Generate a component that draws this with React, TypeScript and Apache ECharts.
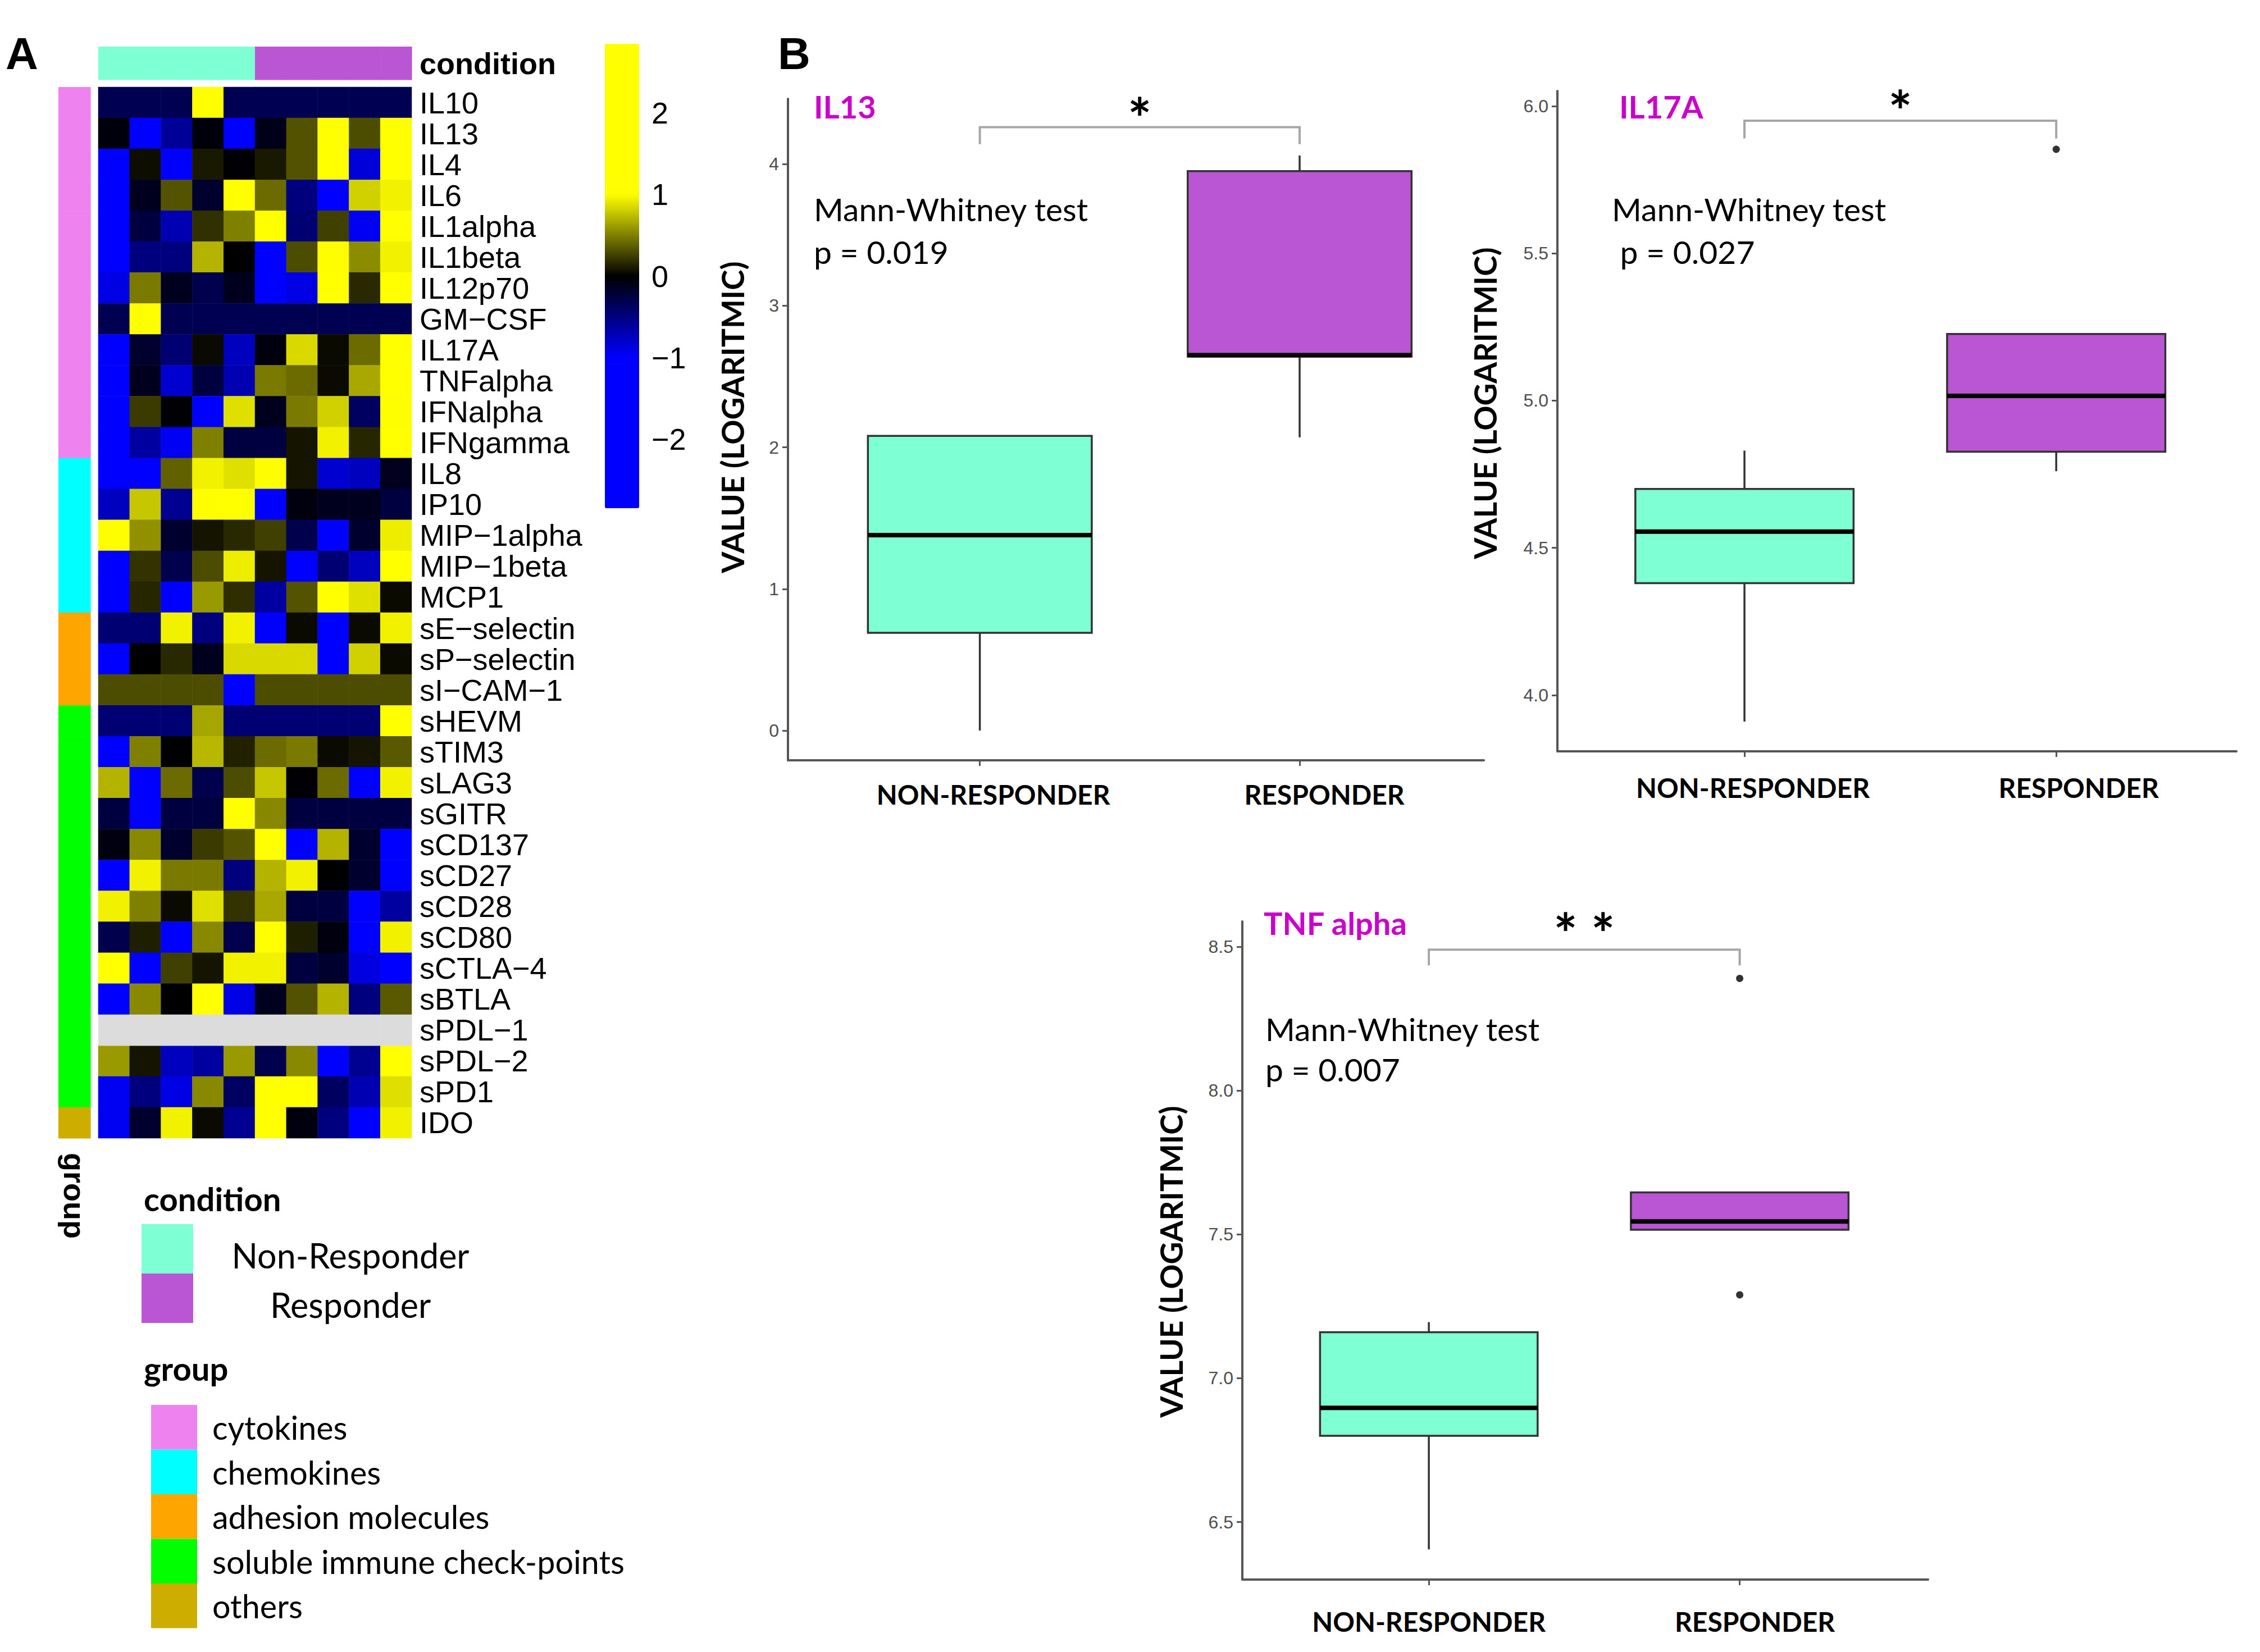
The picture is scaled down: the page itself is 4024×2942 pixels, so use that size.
import React, { useEffect, useRef } from "react";
import * as echarts from "echarts";

// ---------------- DATA ----------------
const sampleIds = ["NR1", "NR2", "NR3", "NR4", "NR5", "R1", "R2", "R3", "R4", "R5"];
const conditionNames = ["Non-Responder", "Responder"];
const conditionColors = ["#7FFFD4", "#BA55D3"];
const sampleCondition = [0, 0, 0, 0, 0, 1, 1, 1, 1, 1];

const markerNames = [
  "IL10", "IL13", "IL4", "IL6", "IL1alpha", "IL1beta", "IL12p70", "GM−CSF", "IL17A", "TNFalpha",
  "IFNalpha", "IFNgamma", "IL8", "IP10", "MIP−1alpha", "MIP−1beta", "MCP1", "sE−selectin",
  "sP−selectin", "sI−CAM−1", "sHEVM", "sTIM3", "sLAG3", "sGITR", "sCD137", "sCD27", "sCD28",
  "sCD80", "sCTLA−4", "sBTLA", "sPDL−1", "sPDL−2", "sPD1", "IDO",
];
const groupNames = ["cytokines", "chemokines", "adhesion molecules", "soluble immune check-points", "others"];
const groupColors = ["#EE82EE", "#00FFFF", "#FFA500", "#00FF00", "#CDAD00"];
const markerGroup = [
  0, 0, 0, 0, 0, 0, 0, 0, 0, 0, 0, 0,
  1, 1, 1, 1, 1,
  2, 2, 2,
  3, 3, 3, 3, 3, 3, 3, 3, 3, 3, 3, 3, 3,
  4,
];

// row-scaled values (z-scores), one row per marker, one column per sample; null = NA
const zScores: (number | null)[][] = [
  [-0.32, -0.32, -0.32, 2.85, -0.32, -0.32, -0.32, -0.32, -0.32, -0.32],
  [-0.05, -1.5, -0.6, -0.05, -1.4, -0.1, 0.32, 1.5, 0.3, 1.6],
  [-1.5, 0.05, -1.4, 0.1, -0.02, 0.1, 0.32, 1.5, -0.85, 1.5],
  [-1.5, -0.12, 0.33, -0.18, 1.3, 0.42, -0.5, -1.2, 0.82, 0.95],
  [-1.5, -0.25, -0.7, 0.19, 0.5, 1.2, -0.45, 0.25, -0.95, 1.5],
  [-1.5, -0.5, -0.5, 0.7, 0.0, -1.2, 0.3, 1.0, 0.55, 0.95],
  [-0.9, 0.48, -0.12, -0.3, -0.12, -1.3, -0.9, 1.2, 0.16, 1.3],
  [-0.32, 2.85, -0.32, -0.32, -0.32, -0.32, -0.32, -0.32, -0.32, -0.32],
  [-1.5, -0.18, -0.45, 0.04, -0.75, -0.06, 0.85, 0.04, 0.42, 1.5],
  [-1.5, -0.12, -0.82, -0.25, -0.7, 0.48, 0.42, 0.04, 0.66, 1.5],
  [-1.5, 0.23, -0.02, -1.3, 0.88, -0.12, 0.48, 0.82, -0.38, 1.0],
  [-1.5, -0.63, -0.95, 0.5, -0.25, -0.25, 0.08, 0.95, 0.15, 1.5],
  [-1.3, -1.3, 0.38, 0.95, 0.88, 1.0, 0.08, -0.82, -0.75, -0.12],
  [-0.75, 0.78, -0.57, 1.0, 1.2, -1.3, -0.06, -0.12, -0.12, -0.25],
  [1.0, 0.57, -0.18, 0.08, 0.16, 0.25, -0.3, -1.3, -0.18, 0.93],
  [-1.5, 0.2, -0.3, 0.3, 0.93, 0.08, -1.2, -0.45, -0.75, 1.3],
  [-1.5, 0.15, -1.2, 0.6, 0.18, -0.63, 0.33, 1.2, 0.88, 0.04],
  [-0.45, -0.45, 0.95, -0.5, 0.95, -1.3, 0.04, -1.3, 0.04, 0.95],
  [-1.3, 0.0, 0.16, -0.12, 0.85, 0.85, 0.85, -1.3, 0.82, 0.04],
  [0.3, 0.3, 0.3, 0.3, -2.85, 0.3, 0.3, 0.3, 0.3, 0.3],
  [-0.45, -0.45, -0.45, 0.65, -0.45, -0.45, -0.45, -0.45, -0.45, 2.4],
  [-1.3, 0.5, 0.0, 0.72, 0.13, 0.42, 0.48, 0.04, 0.08, 0.35],
  [0.7, -1.3, 0.42, -0.3, 0.3, 0.78, -0.02, 0.42, -1.3, 0.95],
  [-0.25, -1.3, -0.25, -0.25, 1.3, 0.53, -0.25, -0.25, -0.25, -0.25],
  [-0.06, 0.54, -0.18, 0.23, 0.33, 1.2, -1.2, 0.7, -0.18, -1.2],
  [-1.2, 0.95, 0.48, 0.48, -0.5, 0.7, 0.95, 0.0, -0.18, -1.2],
  [0.95, 0.5, 0.04, 0.88, 0.2, 0.66, -0.25, -0.25, -1.2, -0.63],
  [-0.3, 0.12, -1.2, 0.54, -0.3, 1.2, 0.12, -0.06, -1.2, 0.95],
  [1.2, -1.2, 0.25, 0.08, 0.95, 0.95, -0.25, -0.18, -0.88, -1.2],
  [-1.3, 0.54, 0.0, 1.3, -0.9, -0.12, 0.32, 0.7, -0.5, 0.35],
  [null, null, null, null, null, null, null, null, null, null],
  [0.6, 0.08, -0.75, -0.63, 0.6, -0.3, 0.54, -1.2, -0.57, 1.2],
  [-0.95, -0.5, -0.9, 0.54, -0.38, 1.2, 1.2, -0.38, -0.7, 0.88],
  [-0.95, -0.18, 0.95, 0.04, -0.57, 1.2, -0.06, -0.5, -1.2, 0.95],
];
const zLimit = 2.85;
const colorBarTicks = [-2, -1, 0, 1, 2];

// box plots: [lower whisker, Q1, median, Q3, upper whisker] per category
const boxCategories = ["NON-RESPONDER", "RESPONDER"];
const il13Stats = [
  [0.0, 0.69, 1.38, 2.08, 2.08],
  [2.07, 2.64, 2.65, 3.95, 4.06],
];
const il13Outliers: number[][] = [];
const il13Ticks = [0, 1, 2, 3, 4];
const il13Sig = { label: "*", tipY: 4.14, barY: 4.26, textY: 4.41 };

const il17aStats = [
  [3.91, 4.38, 4.555, 4.7, 4.83],
  [4.76, 4.826, 5.016, 5.226, 5.226],
];
const il17aOutliers = [[2, 5.853]];
const il17aTicks = [4.0, 4.5, 5.0, 5.5, 6.0];
const il17aSig = { label: "*", tipY: 5.89, barY: 5.95, textY: 6.025 };

const tnfStats = [
  [6.405, 6.8, 6.897, 7.16, 7.195],
  [7.516, 7.516, 7.545, 7.646, 7.646],
];
const tnfOutliers = [[2, 8.39], [2, 7.29]];
const tnfTicks = [6.5, 7.0, 7.5, 8.0, 8.5];
const tnfSig = { label: "* *", tipY: 8.435, barY: 8.49, textY: 8.588 };

// ---------------- STYLE / LAYOUT ----------------
const W = 4024;
const H = 2942;
const ARIAL = "Liberation Sans";
const CAL = "Lato";
const BOX_WIDTH = 0.7;
const AXIS_GREY = "#555555";
const STAR_SIZE = 100;

function buildPalette(): string[] {
  // blue -> black -> yellow, saturating at |z| >= 1
  const out: string[] = [];
  const n = 40;
  for (let k = 0; k <= n; k++) {
    const v = -zLimit + (2 * zLimit * k) / n;
    const t = Math.max(-1, Math.min(1, v));
    let r = 0, g = 0, b = 0;
    if (t < 0) b = Math.round(-t * 255);
    else { r = Math.round(t * 255); g = r; }
    out.push(`rgb(${r},${g},${b})`);
  }
  return out;
}

const cellRender = (params: any, api: any) => {
  const c = api.coord([api.value(0), api.value(1)]);
  const s = api.size([1, 1]);
  return {
    type: "rect",
    shape: { x: c[0] - s[0] / 2, y: c[1] - s[1] / 2, width: s[0] + 0.6, height: s[1] + 0.6 },
    style: { fill: api.visual("color") },
  };
};

const boxRender = (params: any, api: any) => {
  const x = api.value(0);
  const lo = api.coord([x, api.value(1)]);
  const q1 = api.coord([x, api.value(2)]);
  const md = api.coord([x, api.value(3)]);
  const q3 = api.coord([x, api.value(4)]);
  const hi = api.coord([x, api.value(5)]);
  const hw = api.size([BOX_WIDTH, 0])[0] / 2;
  const fill = conditionColors[api.value(6)];
  const ws = { stroke: "#333333", lineWidth: 3.5 };
  return {
    type: "group",
    children: [
      { type: "line", shape: { x1: lo[0], y1: lo[1], x2: q1[0], y2: q1[1] }, style: ws },
      { type: "line", shape: { x1: q3[0], y1: q3[1], x2: hi[0], y2: hi[1] }, style: ws },
      {
        type: "rect",
        shape: { x: q3[0] - hw, y: q3[1], width: 2 * hw, height: q1[1] - q3[1] },
        style: { fill, stroke: "#333333", lineWidth: 3.5 },
      },
      { type: "line", shape: { x1: md[0] - hw, y1: md[1], x2: md[0] + hw, y2: md[1] }, style: { stroke: "#000", lineWidth: 8 } },
    ],
  };
};

const makeBracketRender = (label: string) => (params: any, api: any) => {
  const x1 = api.value(0), x2 = api.value(1);
  const tip = api.value(2), bar = api.value(3), ty = api.value(4);
  const a = api.coord([x1, tip]);
  const b = api.coord([x1, bar]);
  const c = api.coord([x2, bar]);
  const d = api.coord([x2, tip]);
  const t = api.coord([(x1 + x2) / 2, ty]);
  return {
    type: "group",
    children: [
      { type: "polyline", shape: { points: [a, b, c, d] }, style: { stroke: "#A6A6A6", lineWidth: 4, fill: null } },
      {
        type: "text",
        x: t[0],
        y: t[1] + STAR_SIZE * 0.2,
        style: {
          text: label, fill: "#000", fontSize: STAR_SIZE, fontWeight: "bold", fontFamily: CAL,
          align: "center", verticalAlign: "middle", textAlign: "center", textVerticalAlign: "middle",
        },
      },
    ],
  };
};

function textEl(text: string, x: number, y: number, fontSize: number, opts: any = {}) {
  return {
    type: "text",
    x,
    y,
    style: {
      text,
      fill: opts.color || "#000",
      fontSize,
      fontFamily: opts.family || CAL,
      fontWeight: opts.weight || "normal",
      lineHeight: opts.lineHeight,
      align: opts.align || "left",
      textAlign: opts.align || "left",
      verticalAlign: opts.va || "middle",
      textVerticalAlign: opts.va || "middle",
    },
  };
}

function buildOption() {
  const grids = [
    { left: 175, top: 155, width: 558, height: 1872 }, // 0 heatmap
    { left: 175, top: 83, width: 558, height: 59 }, // 1 condition bar
    { left: 104, top: 155, width: 57, height: 1872 }, // 2 group bar
    { left: 1077, top: 78, width: 61, height: 827 }, // 3 colour bar axis
    { left: 1403, top: 176, width: 1239, height: 1178 }, // 4 IL13
    { left: 2773, top: 162, width: 1209, height: 1176 }, // 5 IL17A
    { left: 2212, top: 1641, width: 1221, height: 1172 }, // 6 TNF alpha
  ].map((g) => ({ ...g, containLabel: false, outerBoundsMode: "none", show: false }));

  const hidden = { show: false };
  const xAxes: any[] = [
    { type: "category", gridIndex: 0, data: sampleIds, ...hidden },
    { type: "category", gridIndex: 1, data: sampleIds, ...hidden },
    {
      type: "category", gridIndex: 2, data: ["group"], position: "bottom",
      axisLine: { show: false }, axisTick: { show: false },
      axisLabel: { rotate: -90, margin: 26, fontSize: 54, fontWeight: "bold", fontFamily: ARIAL, color: "#000", interval: 0 },
    },
    { type: "value", gridIndex: 3, min: 0, max: 1, ...hidden },
  ];
  const yAxes: any[] = [
    {
      type: "category", gridIndex: 0, data: markerNames, inverse: true, position: "right",
      axisLine: { show: false }, axisTick: { show: false }, splitLine: { show: false },
      axisLabel: { interval: 0, margin: 14, fontSize: 54, fontFamily: ARIAL, color: "#000" },
    },
    {
      type: "category", gridIndex: 1, data: ["condition"], position: "right",
      axisLine: { show: false }, axisTick: { show: false },
      axisLabel: { margin: 14, fontSize: 54, fontWeight: "bold", fontFamily: ARIAL, color: "#000" },
    },
    { type: "category", gridIndex: 2, data: markerNames, inverse: true, ...hidden },
    {
      type: "value", gridIndex: 3, min: -zLimit, max: zLimit, position: "right",
      axisLine: { show: false }, axisTick: { show: false }, splitLine: { show: false },
      axisLabel: {
        customValues: colorBarTicks, margin: 22, fontSize: 54, fontFamily: ARIAL, color: "#000",
        formatter: (v: number) => (v < 0 ? "−" + Math.abs(v) : String(v)),
      },
    },
  ];

  const boxPanels = [
    { gi: 4, stats: il13Stats, outliers: il13Outliers, ticks: il13Ticks, sig: il13Sig, ymin: -0.21, ymax: 4.46, xmax: 2.576, dec: 0, nameGap: 72, namePad: [0, 0, 0, 44], labelMargin: 36, labelShift: [48, 88] },
    { gi: 5, stats: il17aStats, outliers: il17aOutliers, ticks: il17aTicks, sig: il17aSig, ymin: 3.809, ymax: 6.051, xmax: 2.578, dec: 1, nameGap: 102, namePad: [0, 0, 0, 64], labelMargin: 40, labelShift: [30, 80] },
    { gi: 6, stats: tnfStats, outliers: tnfOutliers, ticks: tnfTicks, sig: tnfSig, ymin: 6.30, ymax: 8.588, xmax: 2.606, dec: 1, nameGap: 100, namePad: [0, 40, 0, 0], labelMargin: 50, labelShift: [0, 54] },
  ];

  const series: any[] = [];
  // 0: heatmap (must stay first, visualMap targets it)
  const heatData: number[][] = [];
  const naData: number[][] = [];
  zScores.forEach((row, r) =>
    row.forEach((v, c) => {
      if (v === null) naData.push([c, r]);
      else heatData.push([c, r, v]);
    })
  );
  series.push({
    type: "heatmap", name: "z-score", xAxisIndex: 0, yAxisIndex: 0, data: heatData,
    itemStyle: { borderWidth: 0 }, emphasis: { disabled: true }, silent: true,
  });
  series.push({
    type: "custom", name: "NA", xAxisIndex: 0, yAxisIndex: 0, data: naData,
    itemStyle: { color: "#DCDCDC" }, renderItem: cellRender, silent: true,
  });
  conditionNames.forEach((name, ci) => {
    series.push({
      type: "custom", name, xAxisIndex: 1, yAxisIndex: 1,
      data: sampleIds.map((_, i) => i).filter((i) => sampleCondition[i] === ci).map((i) => [i, 0]),
      itemStyle: { color: conditionColors[ci] }, renderItem: cellRender, silent: true,
    });
  });
  groupNames.forEach((name, gi) => {
    series.push({
      type: "custom", name, xAxisIndex: 2, yAxisIndex: 2,
      data: markerNames.map((_, i) => i).filter((i) => markerGroup[i] === gi).map((i) => [0, i]),
      itemStyle: { color: groupColors[gi] }, renderItem: cellRender, silent: true,
    });
  });

  boxPanels.forEach((p, k) => {
    const xi = xAxes.length;
    const yi = yAxes.length;
    const labelFont = { fontSize: 48, fontWeight: "bold", fontFamily: CAL, color: "#000" };
    xAxes.push({
      type: "value", gridIndex: p.gi, min: 0.4, max: p.xmax,
      axisLine: { show: true, onZero: false, lineStyle: { color: AXIS_GREY, width: 4 } },
      axisTick: { show: true, customValues: [1, 2], length: 10, lineStyle: { color: AXIS_GREY, width: 3 } },
      splitLine: { show: false },
      axisLabel: {
        customValues: [1, 2], margin: p.labelMargin, ...labelFont,
        formatter: (v: number) => {
          const i = Math.round(v) - 1;
          return boxCategories[i] ? `{c${i}|${boxCategories[i]}}` : "";
        },
        rich: {
          c0: { ...labelFont, padding: [0, 0, 0, p.labelShift[0]] },
          c1: { ...labelFont, padding: [0, 0, 0, p.labelShift[1]] },
        },
      },
    });
    yAxes.push({
      type: "value", gridIndex: p.gi, min: p.ymin, max: p.ymax,
      name: "VALUE (LOGARITMIC)", nameLocation: "middle", nameRotate: 90, nameGap: p.nameGap,
      nameTextStyle: { fontSize: 55, fontWeight: "bold", fontFamily: CAL, color: "#000", padding: p.namePad },
      axisLine: { show: true, onZero: false, lineStyle: { color: AXIS_GREY, width: 4 } },
      axisTick: { show: true, customValues: p.ticks, length: 10, lineStyle: { color: AXIS_GREY, width: 3 } },
      splitLine: { show: false },
      axisLabel: {
        customValues: p.ticks, margin: 16, fontSize: 32, fontFamily: ARIAL, color: "#4D4D4D",
        formatter: (v: number) => v.toFixed(p.dec),
      },
    });
    series.push({
      type: "custom", name: "box" + k, xAxisIndex: xi, yAxisIndex: yi,
      data: p.stats.map((s, i) => [i + 1, ...s, i]),
      encode: { x: 0, y: [1, 5] }, renderItem: boxRender, silent: true, clip: false,
    });
    series.push({
      type: "scatter", name: "outliers" + k, xAxisIndex: xi, yAxisIndex: yi,
      data: p.outliers, symbol: "circle", symbolSize: 13, itemStyle: { color: "#000" }, silent: true,
    });
    series.push({
      type: "custom", name: "sig" + k, xAxisIndex: xi, yAxisIndex: yi,
      data: [[1, 2, p.sig.tipY, p.sig.barY, p.sig.textY]],
      encode: { x: [0, 1], y: [2, 3, 4] }, renderItem: makeBracketRender(p.sig.label), silent: true, clip: false,
    });
  });

  const graphic: any[] = [
    textEl("A", 10, 95, 80, { weight: "bold", family: ARIAL }),
    textEl("B", 1385, 95, 80, { weight: "bold", family: ARIAL }),
    textEl("condition", 256, 2134, 58, { weight: "bold" }),
    textEl("group", 256, 2436, 58, { weight: "bold" }),
    textEl("IL13", 1449, 189, 56, { weight: "bold", color: "#CC00CC" }),
    textEl("IL17A", 2883, 189, 56, { weight: "bold", color: "#CC00CC" }),
    textEl("TNF alpha", 2250, 1643, 56, { weight: "bold", color: "#CC00CC" }),
    textEl("Mann-Whitney test\np = 0.019", 1449, 334, 57, { va: "top", lineHeight: 76 }),
    textEl("Mann-Whitney test\n p = 0.027", 2870, 334, 57, { va: "top", lineHeight: 76 }),
    textEl("Mann-Whitney test\np = 0.007", 2253, 1796, 57, { va: "top", lineHeight: 72 }),
  ];

  return {
    animation: false,
    backgroundColor: "#FFFFFF",
    textStyle: { fontFamily: ARIAL },
    grid: grids,
    xAxis: xAxes,
    yAxis: yAxes,
    visualMap: [
      {
        type: "continuous", seriesIndex: 0, min: -zLimit, max: zLimit, calculable: false,
        left: 1077, top: 78, itemWidth: 61, itemHeight: 827, padding: 0, orient: "vertical",
        inRange: { color: buildPalette() }, hoverLink: false, showLabel: false,
      },
    ],
    legend: [
      {
        data: conditionNames, orient: "vertical", left: 252, top: 2180, padding: 0,
        itemWidth: 92, itemHeight: 88, itemGap: 0, icon: "rect", selectedMode: false,
        formatter: "{c|{name}}",
        textStyle: {
          color: "#000", fontSize: 61, fontFamily: CAL, lineHeight: 64,
          rich: { c: { width: 550, align: "center", fontSize: 61, fontFamily: CAL, color: "#000", lineHeight: 64, padding: [22, 0, 0, 0] } },
        },
      },
      {
        data: groupNames, orient: "vertical", left: 269, top: 2502, padding: 0,
        itemWidth: 82, itemHeight: 79.5, itemGap: 0, icon: "rect", selectedMode: false,
        formatter: "{c|{name}}",
        textStyle: {
          color: "#000", fontSize: 57.5, fontFamily: CAL, lineHeight: 62,
          rich: { c: { padding: [0, 0, 0, 22], fontSize: 57.5, fontFamily: CAL, color: "#000", lineHeight: 62 } },
        },
      },
    ],
    graphic,
    series,
  };
}

export default function App() {
  const ref = useRef<HTMLDivElement>(null);
  useEffect(() => {
    document.body.style.margin = "0";
    if (!ref.current) return;
    const chart = echarts.init(ref.current, undefined, { renderer: "svg", width: W, height: H });
    chart.setOption(buildOption() as any);
    return () => chart.dispose();
  }, []);
  return <div ref={ref} style={{ width: W, height: H, background: "#fff" }} />;
}
